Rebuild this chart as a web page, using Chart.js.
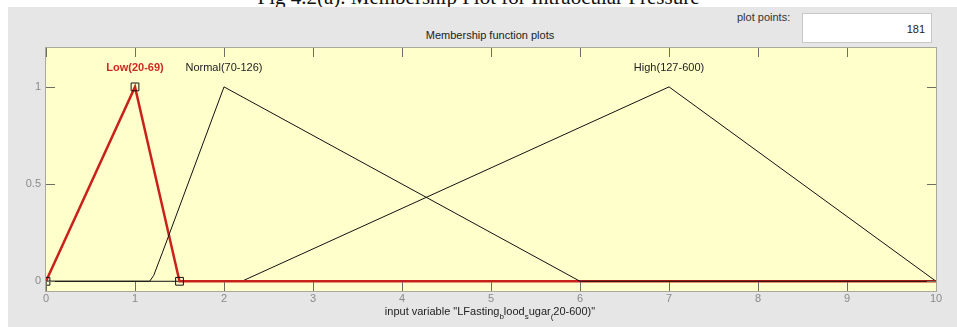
<!DOCTYPE html>
<html>
<head>
<meta charset="utf-8">
<title>Membership function plots</title>
<script src="https://cdn.jsdelivr.net/npm/chart.js@4.4.0/dist/chart.umd.min.js"></script>
<style>
  body { margin: 0; background: #ffffff; font-family: Arial, "Liberation Sans", sans-serif; }
  #wrap { position: relative; width: 957px; height: 327px; overflow: hidden; }
  #fig { position: absolute; left: 0; width: 957px; top: -14px; line-height: 22px; text-align: center;
         font-family: "Liberation Serif", "DejaVu Serif", serif; font-size: 21px; color: #111; }
  #panel { position: absolute; left: 8px; top: 7px; right: 0; bottom: 0; background: #e6e6e6; }
  #pp { position: absolute; left: 737px; top: 11px; font-size: 11px; color: #333; }
  #ppbox { position: absolute; left: 802px; top: 13px; width: 130px; height: 30px; background: #fff;
           border: 1px solid #c8c8c8; box-sizing: border-box; font-size: 11px; color: #222;
           text-align: right; padding-right: 6px; line-height: 30px; }
  #mftitle { position: absolute; left: 0; width: 980px; top: 29px; text-align: center; font-size: 11px; color: #222; }
  canvas { position: absolute; left: 0; top: 0; }
</style>
</head>
<body>
<div id="wrap">
  <div id="fig">Fig 4.2(a). Membership Plot for Intraocular Pressure</div>
  <div id="panel"></div>
  <div id="pp">plot points:</div>
  <div id="ppbox">181</div>
  <div id="mftitle">Membership function plots</div>
  <canvas id="mf" width="957" height="327"></canvas>
</div>
<script>
// membership functions, breakpoints on the input range 0..10
const lowX = [0, 1, 1.5, 10];
const lowY = [0, 1, 0, 0];
const normalX = [0, 1.165, 1.21, 1.31, 2, 6, 10];
const normalY = [0, 0, 0.03, 0.15, 1, 0, 0];
const highX = [0, 2.2, 7, 10];
const highY = [0, 0, 1, 0];

const mfNames = ['Low(20-69)', 'Normal(70-126)', 'High(127-600)'];
const mfPeaks = [1, 2, 7];

const xTicks = [0, 1, 2, 3, 4, 5, 6, 7, 8, 9, 10];
const yTicks = [0, 0.5, 1];

function pts(xs, ys) {
  return xs.map((x, i) => ({ x: x, y: ys[i] }));
}

// yellow axes background, inward ticks, border, mf names, axis label
const matlabAxes = {
  id: 'matlabAxes',
  beforeDatasetsDraw(chart) {
    const a = chart.chartArea, ctx = chart.ctx;
    ctx.save();
    ctx.fillStyle = '#ffffcc';
    ctx.fillRect(a.left, a.top, a.right - a.left, a.bottom - a.top);
    ctx.restore();
  },
  afterDatasetsDraw(chart) {
    const a = chart.chartArea, ctx = chart.ctx;
    const xs = chart.scales.x, ys = chart.scales.y;
    ctx.save();
    ctx.strokeStyle = '#6e6e64';
    ctx.lineWidth = 1;
    ctx.beginPath();
    xTicks.forEach(t => {
      const px = Math.round(xs.getPixelForValue(t)) + 0.5;
      ctx.moveTo(px, a.top); ctx.lineTo(px, a.top + 9);
      ctx.moveTo(px, a.bottom); ctx.lineTo(px, a.bottom - 9);
    });
    yTicks.forEach(t => {
      const py = Math.round(ys.getPixelForValue(t)) + 0.5;
      ctx.moveTo(a.left, py); ctx.lineTo(a.left + 9, py);
      ctx.moveTo(a.right, py); ctx.lineTo(a.right - 9, py);
    });
    ctx.stroke();
    ctx.strokeStyle = '#a9a899';
    ctx.strokeRect(a.left - 0.5, a.top - 0.5, a.right - a.left + 1, a.bottom - a.top + 1);

    // mf names above each peak
    ctx.textAlign = 'center';
    ctx.textBaseline = 'middle';
    mfNames.forEach((n, i) => {
      ctx.font = i === 0 ? 'bold 11px Arial' : '11px Arial';
      ctx.fillStyle = i === 0 ? '#cc2a22' : '#222222';
      ctx.fillText(n, xs.getPixelForValue(mfPeaks[i]), 68);
    });

    // x label with TeX style subscripts
    const parts = [['input variable "LFasting', 0], ['b', 1], ['lood', 0], ['s', 1], ['ugar', 0], ['(', 1], ['20-600)"', 0]];
    const big = '11px Arial', small = '8px Arial';
    let w = 0;
    parts.forEach(p => { ctx.font = p[1] ? small : big; w += ctx.measureText(p[0]).width; });
    let x = 490 - w / 2;
    ctx.textAlign = 'left';
    ctx.textBaseline = 'alphabetic';
    ctx.fillStyle = '#222222';
    parts.forEach(p => {
      ctx.font = p[1] ? small : big;
      ctx.fillText(p[0], x, p[1] ? 319 : 315);
      x += ctx.measureText(p[0]).width;
    });
    ctx.restore();
  }
};

const ctx = document.getElementById('mf').getContext('2d');
const chart = new Chart(ctx, {
  type: 'scatter',
  data: {
    datasets: [
      {
        label: mfNames[1],
        data: pts(normalX, normalY),
        showLine: true,
        borderColor: '#111111',
        borderWidth: 1,
        pointRadius: 0,
        order: 0
      },
      {
        label: mfNames[0],
        data: pts(lowX, lowY),
        showLine: true,
        borderColor: '#c9221b',
        borderWidth: 2.5,
        pointStyle: 'rect',
        pointRadius: [5.5, 5.5, 5.5, 0],
        pointBorderColor: '#111111',
        pointBorderWidth: 1,
        pointBackgroundColor: 'rgba(0,0,0,0)',
        order: 1
      },
      {
        label: mfNames[2],
        data: pts(highX, highY),
        showLine: true,
        borderColor: '#111111',
        borderWidth: 1,
        pointRadius: 0,
        order: 2
      }
    ]
  },
  options: {
    responsive: false,
    animation: false,
    events: [],
    layout: { padding: { left: 0, top: 48, right: 21, bottom: 0 } },
    plugins: { legend: { display: false }, tooltip: { enabled: false } },
    scales: {
      x: {
        type: 'linear',
        min: 0,
        max: 10,
        afterBuildTicks: s => { s.ticks = xTicks.map(v => ({ value: v })); },
        afterFit: s => { s.height = 36; },
        grid: { display: false, drawTicks: false, tickLength: 0 },
        border: { display: false },
        ticks: { color: '#8a8a8a', font: { size: 11, family: 'Arial' }, padding: 1, maxRotation: 0 }
      },
      y: {
        type: 'linear',
        min: -0.05,
        max: 1.2,
        afterBuildTicks: s => { s.ticks = yTicks.map(v => ({ value: v })); },
        afterFit: s => { s.width = 46; },
        grid: { display: false, drawTicks: false, tickLength: 0 },
        border: { display: false },
        ticks: { color: '#8a8a8a', font: { size: 11, family: 'Arial' }, padding: 5,
                 callback: v => String(v) }
      }
    }
  },
  plugins: [matlabAxes]
});
</script>
</body>
</html>
